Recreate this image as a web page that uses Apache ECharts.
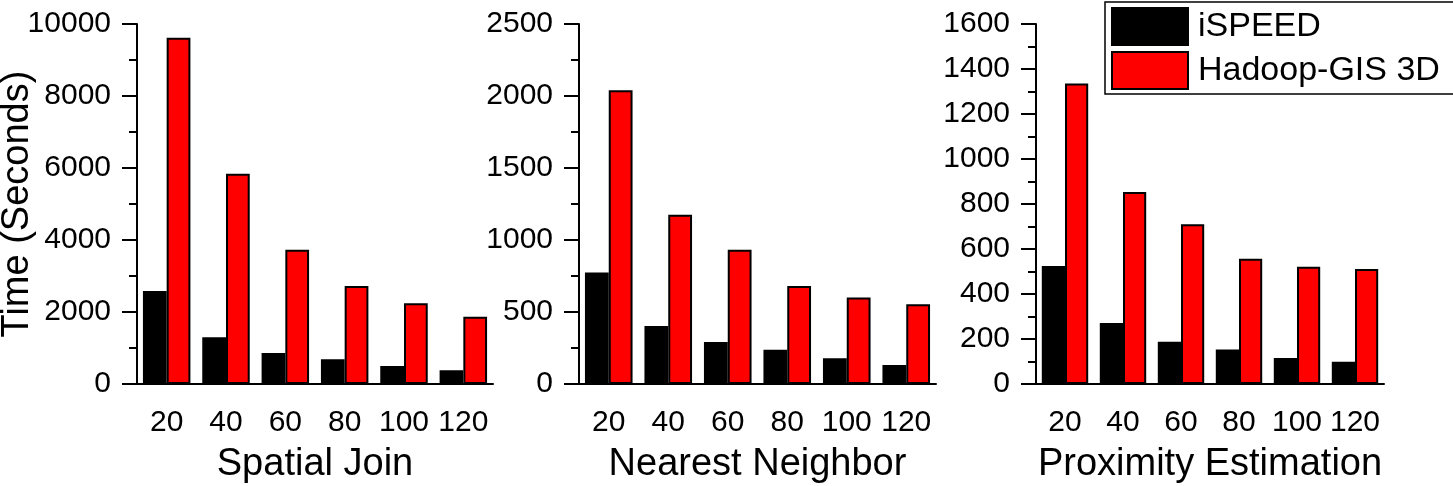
<!DOCTYPE html>
<html lang="en">
  <head>
    <meta charset="UTF-8" />
    <title>iSPEED vs Hadoop-GIS 3D</title>
    <script src="https://cdn.jsdelivr.net/npm/echarts@6/dist/echarts.min.js"></script>
  </head>
  <body style="margin: 0; background: #fff">
    <div id="main" style="width: 1453px; height: 486px"></div>
    <script type="text/javascript">
      // Numbers of processes (x axis), shared by all three panels
      const categories = ["20", "40", "60", "80", "100", "120"];

      // Spatial join
      const joinISpeed = [2580, 1300, 860, 685, 500, 380];
      const joinHadoop = [9620, 5840, 3730, 2720, 2240, 1870];
      // Nearest neighbor
      const nnISpeed = [775, 403, 292, 238, 178, 132];
      const nnHadoop = [2040, 1176, 933, 681, 600, 553];
      // Proximity estimation
      const proxISpeed = [524, 271, 188, 153, 116, 99];
      const proxHadoop = [1336, 853, 710, 557, 521, 511];

      const panelNames = ["Spatial Join", "Nearest Neighbor", "Proximity Estimation"];
      const yMax = [10000, 2500, 1600];
      const yStep = [2000, 500, 200];

      const font = "'Liberation Sans', Arial, sans-serif";
      const black = "#000";

      let myChart = echarts.init(document.getElementById("main"));

      const grids = [
        { left: 137, top: 24, width: 356, height: 360 },
        { left: 579, top: 24, width: 357, height: 360 },
        { left: 1036, top: 24, width: 348, height: 360 },
      ].map((g) => Object.assign(g, { containLabel: false, outerBoundsMode: "none" }));

      let xAxes = [];
      let yAxes = [];
      grids.forEach((g, i) => {
        // main x axis: long ticks under each group, labels and panel name
        xAxes.push({
          type: "category",
          gridIndex: i,
          data: categories,
          position: "bottom",
          name: panelNames[i],
          nameLocation: "middle",
          nameGap: 62,
          nameMoveOverlap: false,
          nameTextStyle: { fontFamily: font, fontSize: 38, color: black },
          axisLine: { lineStyle: { color: black, width: 2 } },
          axisTick: { alignWithLabel: true, length: 15, lineStyle: { color: black, width: 2 } },
          axisLabel: { interval: 0, fontFamily: font, fontSize: 30, color: black, margin: 24 },
        });
        // short ticks at the group boundaries
        xAxes.push({
          type: "category",
          gridIndex: i,
          data: categories,
          position: "bottom",
          offset: 0,
          axisLine: { show: false },
          axisTick: { interval: 0, length: 8, lineStyle: { color: black, width: 2 } },
          axisLabel: { show: false },
        });
        yAxes.push({
          type: "value",
          gridIndex: i,
          min: 0,
          max: yMax[i],
          interval: yStep[i],
          name: i === 0 ? "Time (Seconds)" : "",
          nameLocation: "middle",
          nameRotate: 90,
          nameGap: 100,
          nameMoveOverlap: false,
          nameTextStyle: { fontFamily: font, fontSize: 38, color: black },
          axisLine: { show: true, lineStyle: { color: black, width: 2 } },
          axisTick: { show: true, length: 15, lineStyle: { color: black, width: 2 } },
          minorTick: { show: true, splitNumber: 2, length: 8, lineStyle: { color: black, width: 2 } },
          splitLine: { show: false },
          axisLabel: {
            fontFamily: font,
            fontSize: 30,
            color: black,
            margin: 26,
            formatter: (v) => String(v),
          },
        });
      });

      const pairs = [
        [joinISpeed, joinHadoop],
        [nnISpeed, nnHadoop],
        [proxISpeed, proxHadoop],
      ];

      let series = [];
      pairs.forEach((p, i) => {
        series.push({
          name: "iSPEED",
          type: "bar",
          xAxisIndex: i * 2,
          yAxisIndex: i,
          data: p[0],
          barGap: "0%",
          barCategoryGap: "20%",
          itemStyle: { color: black, borderColor: black, borderWidth: 2 },
        });
        series.push({
          name: "Hadoop-GIS 3D",
          type: "bar",
          xAxisIndex: i * 2,
          yAxisIndex: i,
          data: p[1],
          barGap: "0%",
          barCategoryGap: "20%",
          itemStyle: { color: "#ff0000", borderColor: black, borderWidth: 2 },
        });
      });

      let options = {
        animation: false,
        grid: grids,
        xAxis: xAxes,
        yAxis: yAxes,
        legend: {
          data: ["iSPEED", "Hadoop-GIS 3D"],
          icon: "rect",
          orient: "vertical",
          left: 1105,
          top: 2,
          padding: [5, 14, 4, 6],
          itemWidth: 76,
          itemHeight: 37,
          itemGap: 5,
          borderColor: black,
          borderWidth: 1.5,
          backgroundColor: "#fff",
          textStyle: { fontFamily: font, fontSize: 34, color: black, padding: [0, 0, 0, 5] },
        },
        series: series,
      };

      myChart.setOption(options);
    </script>
  </body>
</html>
